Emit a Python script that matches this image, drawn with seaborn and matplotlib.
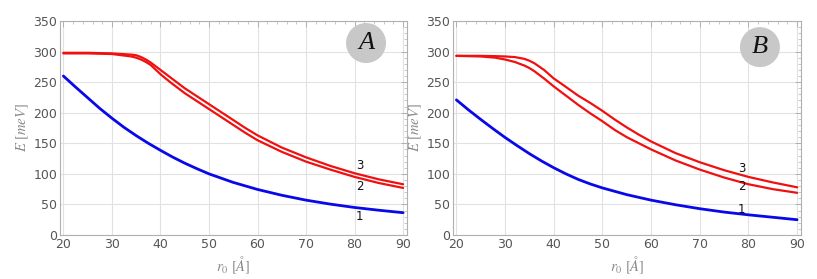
import numpy as np
import pandas as pd
import matplotlib
matplotlib.use("Agg")
import matplotlib.pyplot as plt
from matplotlib.patches import Ellipse
from matplotlib.ticker import MultipleLocator
import seaborn as sns

# r0 values (Angstrom) for the blue curve (level 1)
r0_1 = [20, 22.5, 25, 27.5, 30, 32.5, 35, 37.5, 40, 42.5, 45, 47.5, 50,
        55, 60, 65, 70, 75, 80, 85, 90]

# panel A
a_1 = [260, 242, 224.5, 207, 191, 176, 162.5, 150, 138.5, 127.5, 117.5, 108.5,
       100, 86, 74.5, 65, 57, 50.5, 45, 40.5, 36.5]
r0_a = [20, 25, 30, 32, 34, 35, 36, 37, 38, 40, 42, 45, 47.5, 50, 52.5,
        55, 57.5, 60, 65, 70, 75, 80, 85, 90]
a_2 = [297, 297, 296, 294, 292, 290, 287, 283, 278, 263, 250, 232, 219, 206,
       193, 180, 167, 155, 136, 120, 107, 95, 85, 77]
a_3 = [298, 298, 297, 296, 295, 294, 291, 287, 282, 270, 258, 240, 227, 214,
       201, 188, 175, 163, 143, 127, 113, 101, 91, 83]

# panel B
b_1 = [221, 204.5, 189, 174, 159.5, 146, 133, 121, 110, 100, 91, 83.5, 77,
       66, 57, 49.5, 43, 37.5, 33, 29, 25]
r0_b = [20, 25, 28, 30, 32, 33, 34, 35, 36, 38, 40, 42, 45, 47.5, 50, 52.5,
        55, 57.5, 60, 65, 70, 75, 80, 85, 90]
b_2 = [293, 292, 290, 287, 283, 280, 277, 273, 268, 256, 243, 231, 213, 199,
       186, 172, 160, 150, 140, 122, 107, 94, 83, 75, 69]
b_3 = [293, 293, 292.5, 292, 291, 289.5, 288, 285, 281, 270, 256, 245, 228,
       216, 203, 189, 176, 164, 153, 134, 119, 106, 95, 86, 78]

panels = ["A", "B"]
label_pos = {"A": [(81, 114), (81, 79), (81, 31)],
             "B": [(78.6, 109), (78.6, 79), (78.6, 42)]}

sns.set_theme(style="white")
plt.rcParams["mathtext.fontset"] = "stix"

fig = plt.figure(figsize=(8.17, 2.79), dpi=100)
ax_a = fig.add_axes([60 / 817, 44 / 279, 347 / 817, 214 / 279])
ax_b = fig.add_axes([453 / 817, 44 / 279, 348 / 817, 214 / 279])

data = {"A": (r0_a, a_1, a_2, a_3), "B": (r0_b, b_1, b_2, b_3)}

for name, ax in zip(panels, [ax_a, ax_b]):
    xr, s1, s2, s3 = data[name]
    sns.lineplot(x=r0_1, y=s1, color="#0808e8", lw=2.0, ax=ax)
    sns.lineplot(x=xr, y=s2, color="#f01010", lw=1.6, ax=ax)
    sns.lineplot(x=xr, y=s3, color="#f01010", lw=1.6, ax=ax)

    ax.set_xlim(19.3, 90.8)
    ax.set_ylim(0, 350)
    ax.xaxis.set_major_locator(MultipleLocator(10))
    ax.xaxis.set_minor_locator(MultipleLocator(2))
    ax.yaxis.set_major_locator(MultipleLocator(50))
    ax.yaxis.set_minor_locator(MultipleLocator(10))
    ax.grid(True, which="major", color="#e2e2e2", lw=0.8)
    ax.set_axisbelow(True)
    for sp in ax.spines.values():
        sp.set_color("#b0b0b0")
        sp.set_linewidth(0.8)
    ax.tick_params(which="both", direction="in", top=True, right=True,
                   color="#b0b0b0", labelcolor="#555555", labelsize=9)
    ax.tick_params(which="major", length=4, width=0.7, pad=2)
    ax.tick_params(which="minor", length=2, width=0.5)

    ax.set_xlabel(r"$r_0\ [\AA]$", color="#888888", fontsize=10.5, labelpad=3)
    ax.set_ylabel(r"$E\ [meV]$", color="#888888", fontsize=10.5, labelpad=2)

    for txt, (lx, ly) in zip(["3", "2", "1"], label_pos[name]):
        ax.text(lx, ly, txt, fontsize=8.5, color="#111111",
                ha="center", va="center")

    w = 40 / (347 if name == "A" else 348)
    h = 40 / 214
    cy = 0.897 if name == "A" else 0.878
    ax.add_patch(Ellipse((0.882, cy), w, h, transform=ax.transAxes,
                         facecolor="#c8c8c8", edgecolor="none", zorder=5))
    ax.text(0.882, cy, name, transform=ax.transAxes, fontsize=19,
            family="Liberation Serif", style="italic", color="#111111",
            ha="center", va="center", zorder=6)

fig.savefig("out.png", dpi=100)
